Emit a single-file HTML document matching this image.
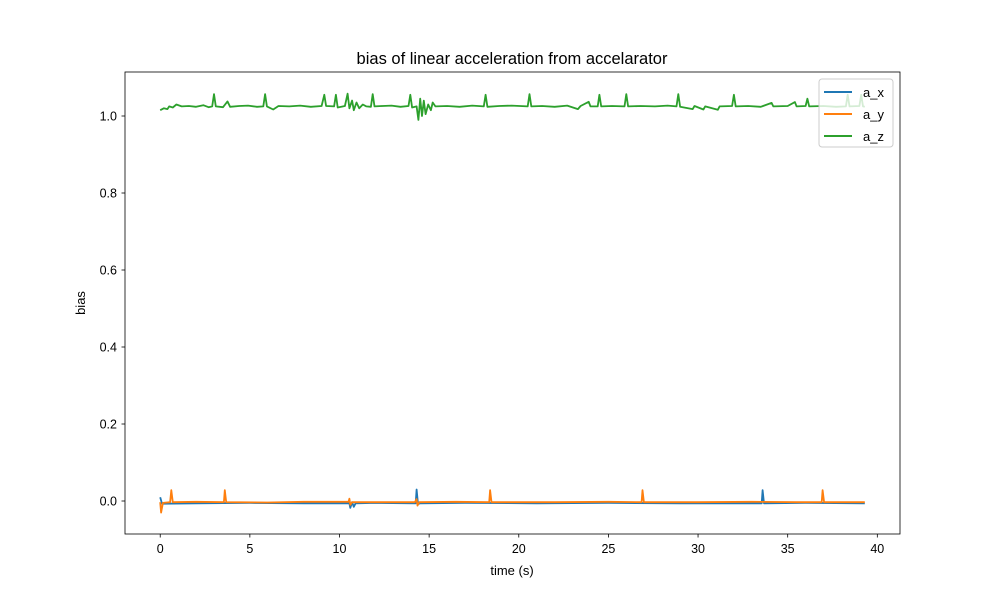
<!DOCTYPE html>
<html><head><meta charset="utf-8"><style>
body{margin:0;background:#fff;}
svg{display:block;font-family:"Liberation Sans","DejaVu Sans",sans-serif;}
</style></head><body>
<svg id="chart" width="1000" height="600" xmlns="http://www.w3.org/2000/svg">
<rect width="1000" height="600" fill="#fff"/>
<text x="512" y="64" text-anchor="middle" font-size="16.5">bias of linear acceleration from accelarator</text>
<g id="plot"></g>
<g id="xticks"></g>
<g id="yticks"></g>
<rect x="125" y="72" width="775" height="462" fill="none" stroke="#000" stroke-width="0.8"/>
<text x="512" y="575" text-anchor="middle" font-size="13">time (s)</text>
<text x="0" y="0" transform="translate(85,303) rotate(-90)" text-anchor="middle" font-size="13">bias</text>
<g>
<rect x="819" y="79" width="74" height="68" rx="3" fill="#fff" fill-opacity="0.8" stroke="#ccc" stroke-width="1"/>
<line x1="824" y1="92" x2="852" y2="92" stroke="#1f77b4" stroke-width="2"/>
<text x="863" y="97" font-size="13">a_x</text>
<line x1="824" y1="114" x2="852" y2="114" stroke="#ff7f0e" stroke-width="2"/>
<text x="863" y="119" font-size="13">a_y</text>
<line x1="824" y1="136" x2="852" y2="136" stroke="#2ca02c" stroke-width="2"/>
<text x="863" y="141" font-size="13">a_z</text>
</g>
</svg>
<script>
const xTicks=[0,5,10,15,20,25,30,35,40];
const yTicks=[0.0,0.2,0.4,0.6,0.8,1.0];
const yTickLabels=["0.0","0.2","0.4","0.6","0.8","1.0"];
const azT=[0,0.2,0.4,0.5,0.7,0.9,1.2,1.6,2.0,2.4,2.7,2.9,3.0,3.1,3.5,3.75,3.9,4.4,4.9,5.4,5.75,5.85,5.95,6.3,6.6,7.2,7.8,8.4,9.0,9.15,9.25,9.7,9.8,9.9,10.3,10.45,10.55,10.7,10.8,10.95,11.1,11.3,11.5,11.75,11.85,11.95,12.4,12.9,13.4,13.85,13.95,14.05,14.3,14.4,14.5,14.6,14.7,14.8,14.95,15.1,15.2,15.35,16,16.7,17.4,18.05,18.15,18.25,18.9,19.6,20.5,20.6,20.7,21.3,22.0,22.7,23.3,23.45,23.9,24.0,24.4,24.5,24.6,25.2,25.9,26.0,26.1,26.8,27.6,28.3,28.8,28.9,29.0,29.7,29.8,30.3,30.4,31.1,31.2,31.9,32.0,32.1,32.8,33.5,34.1,34.2,35.0,35.4,35.5,36.0,36.1,36.2,37.0,37.7,38.25,38.35,38.45,39.0,39.1,39.2,39.3];
const azV=[1.015,1.02,1.018,1.025,1.022,1.03,1.025,1.026,1.024,1.028,1.023,1.025,1.057,1.025,1.023,1.038,1.024,1.026,1.027,1.024,1.025,1.057,1.025,1.017,1.026,1.025,1.027,1.024,1.026,1.055,1.026,1.025,1.055,1.022,1.026,1.058,1.02,1.04,1.015,1.035,1.02,1.03,1.025,1.024,1.057,1.025,1.026,1.027,1.024,1.026,1.055,1.022,1.025,0.99,1.045,1.0,1.04,1.005,1.03,1.015,1.035,1.025,1.026,1.024,1.027,1.025,1.055,1.024,1.026,1.027,1.025,1.057,1.025,1.026,1.024,1.027,1.018,1.026,1.037,1.025,1.025,1.055,1.025,1.026,1.025,1.057,1.025,1.026,1.025,1.027,1.025,1.057,1.024,1.018,1.026,1.017,1.025,1.016,1.025,1.026,1.055,1.025,1.026,1.024,1.034,1.025,1.026,1.036,1.025,1.026,1.045,1.025,1.026,1.024,1.025,1.055,1.025,1.026,1.055,1.025,1.024];
const ayT=[0,0.05,0.15,0.55,0.62,0.7,2.0,3.55,3.6,3.68,6.0,8.0,10.5,10.55,10.6,10.7,12.5,14.2,14.3,14.35,14.45,16.5,18.35,18.4,18.48,22.0,25.0,26.85,26.9,26.98,30.0,33.0,35.5,36.9,36.95,37.03,39.3];
const ayV=[-0.003,-0.03,-0.005,-0.003,0.028,-0.003,-0.002,-0.003,0.028,-0.003,-0.004,-0.002,-0.002,0.006,-0.01,-0.003,-0.003,-0.003,0.005,-0.012,-0.003,-0.002,-0.003,0.028,-0.003,-0.003,-0.002,-0.003,0.028,-0.003,-0.003,-0.002,-0.003,-0.003,0.028,-0.003,-0.003];
const axT=[0,0.1,2.0,5.0,8.0,10.55,10.6,10.7,10.8,10.9,12.0,14.25,14.3,14.38,14.5,17.0,21.0,25.0,29.0,33.55,33.6,33.68,36.0,39.3];
const axV=[0.01,-0.007,-0.006,-0.005,-0.006,-0.006,-0.018,-0.003,-0.015,-0.006,-0.005,-0.006,0.03,-0.008,-0.006,-0.005,-0.006,-0.005,-0.006,-0.006,0.028,-0.006,-0.005,-0.006];
const NS="http://www.w3.org/2000/svg";
const X0=125,X1=900,Y0=72,Y1=534,xMin=-1.965,xMax=41.265,yMin=-0.0857,yMax=1.1143;
function sx(t){return X0+(t-xMin)/(xMax-xMin)*(X1-X0);}
function sy(v){return Y1-(v-yMin)/(yMax-yMin)*(Y1-Y0);}
const plot=document.getElementById('plot');
function line(ts,vs,color,name){
  const p=document.createElementNS(NS,'path');
  p.setAttribute('d',ts.map((t,i)=>(i?'L':'M')+sx(t).toFixed(1)+' '+sy(vs[i]).toFixed(1)).join(''));
  p.setAttribute('fill','none');p.setAttribute('stroke',color);p.setAttribute('stroke-width','1.8');p.setAttribute('stroke-linejoin','round');
  
  
  plot.appendChild(p);
}
line(azT,azV,'#2ca02c','series-a-z');
line(axT,axV,'#1f77b4','series-a-x');
line(ayT,ayV,'#ff7f0e','series-a-y');
const xg=document.getElementById('xticks');
xTicks.forEach(t=>{
  const x=sx(t);
  const l=document.createElementNS(NS,'line');
  l.setAttribute('x1',x);l.setAttribute('x2',x);l.setAttribute('y1',534);l.setAttribute('y2',537.5);l.setAttribute('stroke','#000');l.setAttribute('stroke-width','0.8');
  
  
  xg.appendChild(l);
  const tx=document.createElementNS(NS,'text');
  tx.setAttribute('x',x);tx.setAttribute('y',553);tx.setAttribute('text-anchor','middle');tx.setAttribute('font-size','12.5');
  tx.textContent=String(t);
  
  
  xg.appendChild(tx);
});
const yg=document.getElementById('yticks');
yTicks.forEach((v,i)=>{
  const y=sy(v);
  const l=document.createElementNS(NS,'line');
  l.setAttribute('x1',121.5);l.setAttribute('x2',125);l.setAttribute('y1',y);l.setAttribute('y2',y);l.setAttribute('stroke','#000');l.setAttribute('stroke-width','0.8');
  
  
  yg.appendChild(l);
  const tx=document.createElementNS(NS,'text');
  tx.setAttribute('x',117);tx.setAttribute('y',y+4.5);tx.setAttribute('text-anchor','end');tx.setAttribute('font-size','12.5');
  tx.textContent=yTickLabels[i];
  
  
  yg.appendChild(tx);
});
</script>
</body></html>
